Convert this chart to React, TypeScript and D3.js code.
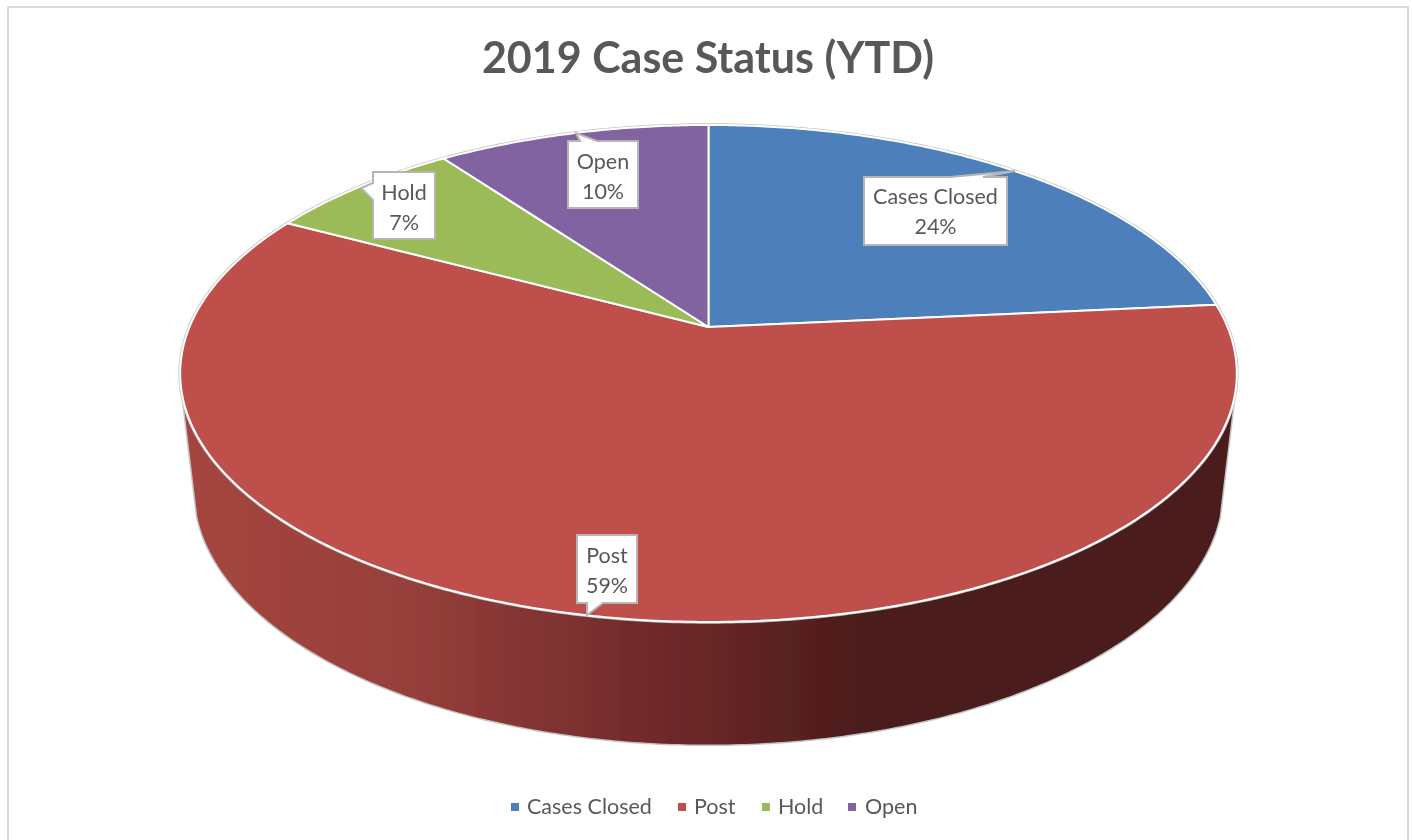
import React from "react";
import * as d3 from "d3";

const categories = ["Cases Closed", "Post", "Hold", "Open"];
const percents = [23.5, 59.3, 7.2, 10];
const sliceColors = ["#4e7fbb", "#bf4f4b", "#9bbb59", "#8063a0"];
const chartTitle = "2019 Case Status (YTD)";
const wallStopOffsets = [0, 0.2, 0.45, 0.65, 1];
const wallStopColors = ["#a5453f", "#97403b", "#70292a", "#4c1c1b", "#4b1d1c"];

const FONT = "Lato, 'Open Sans', sans-serif";
const TEXT = "#595959";

// Perspective projection of a flat disc onto the picture plane
type Disc = { cx: number; cy: number; a: number; b: number; k: number };
const topDisc: Disc = { cx: 708.5, cy: 327, a: 519, b: 239.8, k: 0.187 };
const bottomDisc: Disc = { cx: 708.5, cy: 442, a: 505, b: 246, k: 0.187 };
const project = (d: Disc, t: number): [number, number] => {
  const u = Math.sin(t);
  const v = -Math.cos(t);
  const w = 1 - d.k * v;
  return [d.cx + (d.a * u) / w, d.cy + (d.b * v) / w];
};
const arcPoints = (d: Disc, t0: number, t1: number) => {
  const n = Math.max(2, Math.ceil(Math.abs(t1 - t0) / 0.01));
  return d3.range(n + 1).map((i) => project(d, t0 + ((t1 - t0) * i) / n));
};
const line = d3.line();

const WALL_EDGE = (73.3 / 180) * Math.PI; // rim angle, from the front, where the wall edge leaves the rim

type Callout = {
  box: [number, number, number, number];
  textDy: number;
  outline: (b: number[]) => [number, number][];
};
const callouts: Callout[] = [
  {
    box: [864, 177, 1007, 245],
    textDy: 27,
    outline: ([l, t, r, b]) => [[l, t], [950, t], [1015, 171], [983, t], [r, t], [r, b], [l, b]],
  },
  {
    box: [577, 535, 637, 603],
    textDy: 28,
    outline: ([l, t, r, b]) => [[l, t], [r, t], [r, b], [603, b], [587, 615], [587, b], [l, b]],
  },
  {
    box: [373, 172, 435, 239],
    textDy: 28,
    outline: ([l, t, r, b]) => [[l, t], [r, t], [r, b], [l, b], [l, 200], [361, 188], [l, 183]],
  },
  {
    box: [568, 141, 638, 208],
    textDy: 27.5,
    outline: ([l, t, r, b]) => [[l, t], [580, t], [576, 133], [597, t], [r, t], [r, b], [l, b]],
  },
];

const legendSquareX = [511, 678, 762, 848];
const legendTextX = [527, 694, 778, 865];

export default function App() {
  const arcs = d3.pie<number>().sort(null).startAngle(0).endAngle(2 * Math.PI)(percents);
  const apex: [number, number] = [topDisc.cx, topDisc.cy];
  const wallPts = [
    ...arcPoints(topDisc, Math.PI - WALL_EDGE, Math.PI + WALL_EDGE),
    ...arcPoints(bottomDisc, Math.PI + WALL_EDGE, Math.PI - WALL_EDGE),
  ];
  const bottomEdge = [
    project(topDisc, Math.PI + WALL_EDGE),
    ...arcPoints(bottomDisc, Math.PI + WALL_EDGE, Math.PI - WALL_EDGE),
    project(topDisc, Math.PI - WALL_EDGE),
  ];
  const rim = arcPoints(topDisc, 0, 2 * Math.PI);
  return (
    <svg
      width={1412}
      height={840}
      viewBox="0 0 1412 840"
      style={{ position: "absolute", left: 0, top: 0, display: "block", background: "#fff" }}
    >
      <defs>
        <linearGradient id="wall" gradientUnits="userSpaceOnUse" x1={194} x2={1223} y1={0} y2={0}>
          {wallStopOffsets.map((o, i) => (
            <stop key={o} offset={o} stopColor={wallStopColors[i]} />
          ))}
        </linearGradient>
        <filter id="soft" x="-2%" y="-2%" width="104%" height="104%">
          <feGaussianBlur stdDeviation={0.6} />
        </filter>
      </defs>
      <rect x={8} y={7} width={1400} height={900} fill="#fff" stroke="#d9d9d9" strokeWidth={2} />
      <g filter="url(#soft)">
        <text
          x={708}
          y={73}
          textAnchor="middle"
          fontFamily={FONT}
          fontWeight={700}
          fontSize={43}
          fill={TEXT}
        >
          {chartTitle}
        </text>

        <path d={line(bottomEdge) ?? ""} fill="none" stroke="#c4c4c4" strokeWidth={3} />
        <path d={(line(wallPts) ?? "") + "Z"} fill="url(#wall)" />
        <path d={(line(rim) ?? "") + "Z"} fill="none" stroke="#c4c4c4" strokeWidth={3.5} />

        {arcs.map((s, i) => (
          <path
            key={categories[i]}
            d={(line([apex, ...arcPoints(topDisc, s.startAngle, s.endAngle)]) ?? "") + "Z"}
            fill={sliceColors[i]}
            stroke="#fff"
            strokeWidth={2}
            strokeLinejoin="round"
          />
        ))}

        {callouts.map((c, i) => {
          const [l, t, r] = c.box;
          const mx = (l + r) / 2;
          return (
            <g key={categories[i]}>
              <path
                d={(line(c.outline(c.box)) ?? "") + "Z"}
                fill="#fff"
                stroke="#b5b5b5"
                strokeWidth={2}
              />
              <text x={mx} y={t + c.textDy} textAnchor="middle" fontFamily={FONT} fontSize={21.5} fill={TEXT}>
                {categories[i]}
              </text>
              <text x={mx} y={t + c.textDy + 30} textAnchor="middle" fontFamily={FONT} fontSize={21.5} fill={TEXT}>
                {Math.round(percents[i])}%
              </text>
            </g>
          );
        })}

        {categories.map((name, i) => (
          <g key={name}>
            <rect x={legendSquareX[i]} y={803} width={8} height={8} fill={sliceColors[i]} />
            <text x={legendTextX[i]} y={814} fontFamily={FONT} fontSize={21.5} fill={TEXT}>
              {name}
            </text>
          </g>
        ))}
      </g>
    </svg>
  );
}
